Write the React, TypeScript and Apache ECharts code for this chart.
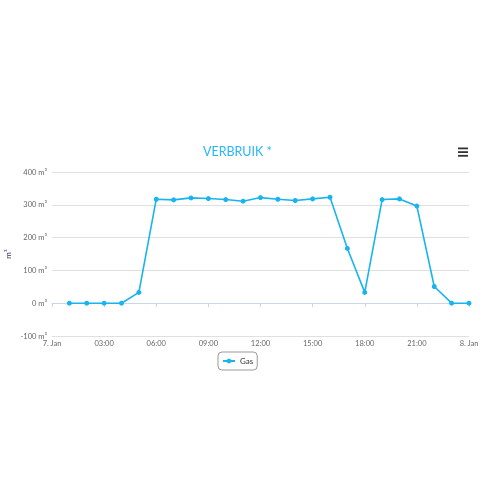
import React, { useEffect, useRef } from "react";
import * as echarts from "echarts";

const hours = [1, 2, 3, 4, 5, 6, 7, 8, 9, 10, 11, 12, 13, 14, 15, 16, 17, 18, 19, 20, 21, 22, 23, 24];
const gasValues = [0, 0, 0, 0, 33, 317, 315, 321, 319, 316, 311, 322, 317, 313, 318, 323, 167, 33, 316, 318, 296, 51, 0, 0];
const xTickLabels: Record<number, string> = {
  0: "7. Jan", 3: "03:00", 6: "06:00", 9: "09:00", 12: "12:00",
  15: "15:00", 18: "18:00", 21: "21:00", 24: "8. Jan",
};
const seriesName = "Gas";
const titleText = "VERBRUIK *";

export default function App() {
  const ref = useRef<HTMLDivElement>(null);
  useEffect(() => {
    if (!ref.current) return;
    const chart = echarts.init(ref.current, undefined, { renderer: "svg" });
    const font = "Lato, 'Open Sans', sans-serif";
    chart.setOption({
      animation: false,
      textStyle: { fontFamily: font },
      title: {
        text: titleText,
        left: 198,
        top: 140,
        textStyle: { color: "#29b6f6", fontSize: 12.5, fontWeight: "normal", fontFamily: font },
      },
      legend: {
        data: [seriesName],
        left: 218,
        top: 352,
        borderColor: "#999",
        borderWidth: 1,
        borderRadius: 4,
        padding: [5, 4],
        itemWidth: 12,
        itemHeight: 6,
        itemGap: 4,
        textStyle: { color: "#333", fontSize: 8, fontFamily: font },
      },
      grid: { left: 52, right: 31, top: 172, bottom: 164, containLabel: false, outerBoundsMode: "none" },
      xAxis: {
        type: "value",
        min: 0,
        max: 24,
        interval: 3,
        axisLine: { show: true, lineStyle: { color: "#ccd6eb" } },
        axisTick: { show: true, length: 4, lineStyle: { color: "#ccd6eb" } },
        splitLine: { show: false },
        axisLabel: {
          color: "#666",
          fontSize: 7.5,
          margin: 3,
          formatter: (v: number) => xTickLabels[v] ?? "",
        },
      },
      yAxis: {
        type: "value",
        min: -100,
        max: 400,
        interval: 100,
        name: "m³",
        nameLocation: "middle",
        nameRotate: 90,
        nameGap: 40,
        nameMoveOverlap: false,
        nameTextStyle: { color: "#333366", fontSize: 8, fontFamily: font },
        axisLine: { show: false },
        axisTick: { show: false },
        splitLine: { show: true, lineStyle: { color: "#e0e0e0", width: 1 } },
        axisLabel: {
          color: "#666",
          fontSize: 7.5,
          margin: 5,
          formatter: (v: number) => `${v} m³`,
        },
      },
      series: [
        {
          name: seriesName,
          type: "line",
          data: hours.map((h, i) => [h, gasValues[i]]),
          symbol: "circle",
          symbolSize: 5,
          itemStyle: { color: "#18b4f0" },
          lineStyle: { color: "#18b4f0", width: 1.6 },
        },
      ],
      graphic: [
        { type: "rect", shape: { x: 458, y: 147.5, width: 10, height: 1.8 }, style: { fill: "#333" } },
        { type: "rect", shape: { x: 458, y: 151.2, width: 10, height: 1.8 }, style: { fill: "#333" } },
        { type: "rect", shape: { x: 458, y: 154.9, width: 10, height: 1.8 }, style: { fill: "#333" } },
      ],
    });
    return () => chart.dispose();
  }, []);
  return <div ref={ref} style={{ position: "fixed", left: 0, top: 0, width: 500, height: 500 }} />;
}
